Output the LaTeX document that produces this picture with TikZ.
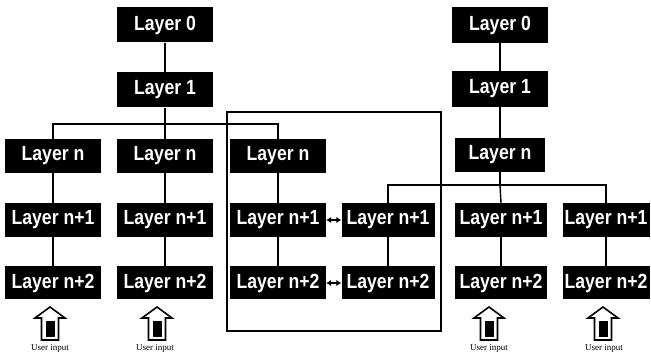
\documentclass[tikz,border=0pt]{standalone}
\usepackage{fontspec}
\setmainfont{Liberation Serif}
\newfontfamily\boxfont[FakeStretch=0.86]{Liberation Sans}
\usetikzlibrary{arrows.meta}
\tikzset{
  layerbox/.style={fill=black, text=white, inner sep=0pt, minimum width=96pt, minimum height=34pt, font=\boxfont\bfseries\fontsize{20.5}{20.5}\selectfont},
  link/.style={line width=1.4pt, draw=black},
  framebox/.style={draw=black, line width=1.2pt, inner sep=0pt},
  bidir/.style={line width=1.3pt, {Latex[length=5pt,width=6.5pt]}-{Latex[length=5pt,width=6.5pt]}},
  uilabel/.style={font=\fontsize{9}{9}\selectfont, inner sep=0pt},
  uarrow/.pic={
    \draw[line width=1.6pt, fill=white] (-15,11) -- (0,0) -- (15,11) -- (8.5,11) -- (8.5,33) -- (-8.5,33) -- (-8.5,11) -- cycle;
    \fill[black] (-4.5,14) rectangle (4.5,30);
  }
}
\begin{document}
\begin{tikzpicture}[x=1pt,y=-1pt]
\useasboundingbox (0,0) rectangle (651,355);
% frame
\node[framebox, minimum width=214pt, minimum height=219pt] (frame) at (334,221.5) {};
% left tree
\node[layerbox, minimum height=35pt] (a0) at (165,25) {Layer 0};
\node[layerbox, minimum height=35pt] (a1) at (165,90) {Layer 1};
\node[layerbox] (an1) at (53,156) {Layer n};
\node[layerbox] (an2) at (165,156) {Layer n};
\node[layerbox] (an3) at (278,156) {Layer n};
% right tree
\node[layerbox, minimum height=36pt] (b0) at (500,25) {Layer 0};
\node[layerbox, minimum height=36pt] (b1) at (500,89) {Layer 1};
\node[layerbox, minimum width=90pt] (bn) at (500,155) {Layer n};
% row n+1
\node[layerbox] (c1) at (53,220) {Layer n+1};
\node[layerbox] (c2) at (165,220) {Layer n+1};
\node[layerbox] (c3) at (278,220) {Layer n+1};
\node[layerbox, minimum width=93pt] (c4) at (388,220) {Layer n+1};
\node[layerbox, minimum width=92pt] (c5) at (501,220) {Layer n+1};
\node[layerbox, minimum width=87pt] (c6) at (606,220) {Layer n+1};
% row n+2
\node[layerbox, minimum height=33pt] (d1) at (53,283) {Layer n+2};
\node[layerbox, minimum height=33pt] (d2) at (165,283) {Layer n+2};
\node[layerbox, minimum height=33pt] (d3) at (278,283) {Layer n+2};
\node[layerbox, minimum height=33pt, minimum width=93pt] (d4) at (388,283) {Layer n+2};
\node[layerbox, minimum height=33pt, minimum width=92pt] (d5) at (501,283) {Layer n+2};
\node[layerbox, minimum height=33pt, minimum width=87pt] (d6) at (606,283) {Layer n+2};
% buses
\coordinate (busA) at (165,124);
\coordinate (busB) at (500,185);
% connectors left
\draw[link] (a0) -- (a1);
\draw[link] (a1) -- (busA);
\draw[link] (an1.north) -- (an1.north |- busA) -- (an3.north |- busA) -- (an3.north);
\draw[link] (busA) -- (an2);
\draw[link] (an1) -- (c1);
\draw[link] (an2) -- (c2);
\draw[link] (an3) -- (c3);
\draw[link] (c1) -- (d1);
\draw[link] (c2) -- (d2);
\draw[link] (c3) -- (d3);
% connectors right
\draw[link] (b0) -- (b1);
\draw[link] (b1) -- (bn);
\draw[link] (bn) -- (busB);
\draw[link] (c4.north) -- (c4.north |- busB) -- (c6.north |- busB) -- (c6.north);
\draw[link] (busB) -- (c5.north);
\draw[link] (c4) -- (d4);
\draw[link] (c5) -- (d5);
\draw[link] (c6) -- (d6);
% bidirectional
\draw[bidir] (c3.east) -- (c4.west);
\draw[bidir] (d3.east) -- (d4.west);
% user input arrows
\pic at (50,307) {uarrow};
\pic at (157,307) {uarrow};
\pic at (489,307) {uarrow};
\pic at (603,307) {uarrow};
\node[uilabel] (u1) at (50,348) {User input};
\node[uilabel] (u2) at (155,348) {User input};
\node[uilabel] (u3) at (489,348) {User input};
\node[uilabel] (u4) at (604,348) {User input};
\end{tikzpicture}
\end{document}
